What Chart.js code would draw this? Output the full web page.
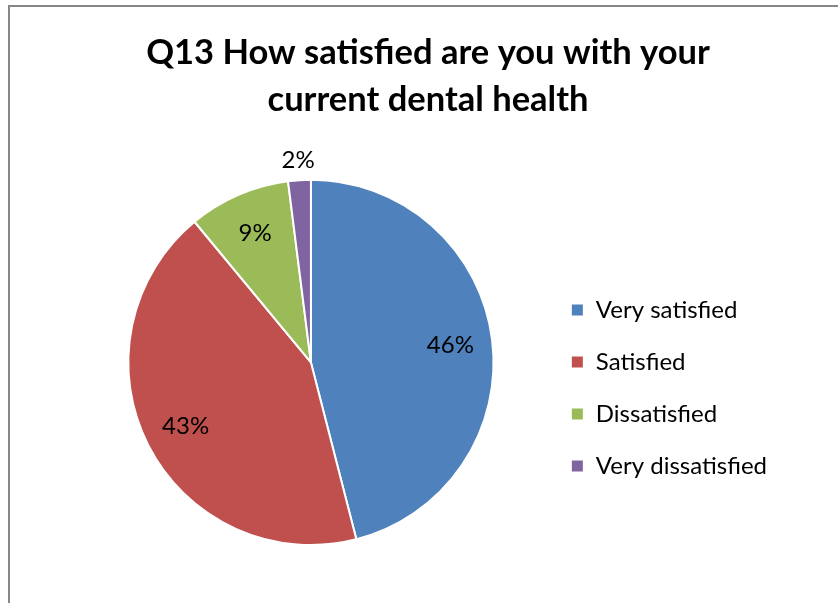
<!DOCTYPE html>
<html>
<head>
<meta charset="utf-8">
<script src="https://cdn.jsdelivr.net/npm/chart.js@4/dist/chart.umd.min.js"></script>
<style>
  html, body { margin: 0; padding: 0; background: #fff; }
  .frame { position: absolute; left: 8px; top: 5px; right: -4px; bottom: -4px; border: 2px solid #878787; }
  .wrap { position: absolute; left: 0; top: 0; width: 838px; height: 603px; }
</style>
</head>
<body>
<div class="frame"></div>
<div class="wrap"><canvas class="jsDentalChart" width="838" height="603"></canvas></div>
<script>
"use strict";
var answers = ["Very satisfied", "Satisfied", "Dissatisfied", "Very dissatisfied"],
  shares = [46, 43, 9, 2],
  sliceColors = ["#4f81bd", "#c0504d", "#9bbb59", "#8064a2"],
  titleLines = ["Q13 How satisfied are you with your", "current dental health"];

// percent labels: inside the slice, small slices pushed just outside the rim
var percentLabels = {
  id: "percentLabels",
  afterDatasetsDraw: function (chart) {
    var ctx = chart.ctx, meta = chart.getDatasetMeta(0);
    ctx.save();
    ctx.font = "24px Lato";
    ctx.fillStyle = "#000";
    ctx.textAlign = "center";
    ctx.textBaseline = "middle";
    meta.data.forEach(function (arc, i) {
      var p = arc.getProps(["x", "y", "startAngle", "endAngle", "outerRadius"], true),
        mid = (p.startAngle + p.endAngle) / 2,
        r = shares[i] < 5 ? p.outerRadius + 20 : p.outerRadius * 0.77;
      ctx.fillText(shares[i] + "%", p.x + Math.cos(mid) * r, p.y + Math.sin(mid) * r);
    });
    ctx.restore();
  }
};

function buildChart() {
  var t = document.querySelector(".jsDentalChart");
  new Chart(t, {
    type: "pie",
    data: {
      labels: answers,
      datasets: [{data: shares, backgroundColor: sliceColors, borderColor: "#fff", borderWidth: 2}]
    },
    options: {
      responsive: !1,
      animation: !1,
      layout: {padding: {left: 79, right: 61, bottom: 57}},
      plugins: {
        title: {
          display: !0, text: titleLines, color: "#000",
          font: {family: "Lato", size: 34.5, weight: "bold", lineHeight: 1.36},
          padding: {top: 29, bottom: 56}
        },
        legend: {
          display: !0, position: "right", align: "center", fullSize: !1,
          // empty title only pushes the entries a little lower
          title: {display: !0, text: " ", padding: {top: 25, bottom: 0}, font: {size: 22}},
          labels: {boxWidth: 13, boxHeight: 13, padding: 28, color: "#000", font: {family: "Lato", size: 24}}
        },
        tooltip: {enabled: !1}
      }
    },
    plugins: [percentLabels]
  });
}
buildChart();
</script>
</body>
</html>
